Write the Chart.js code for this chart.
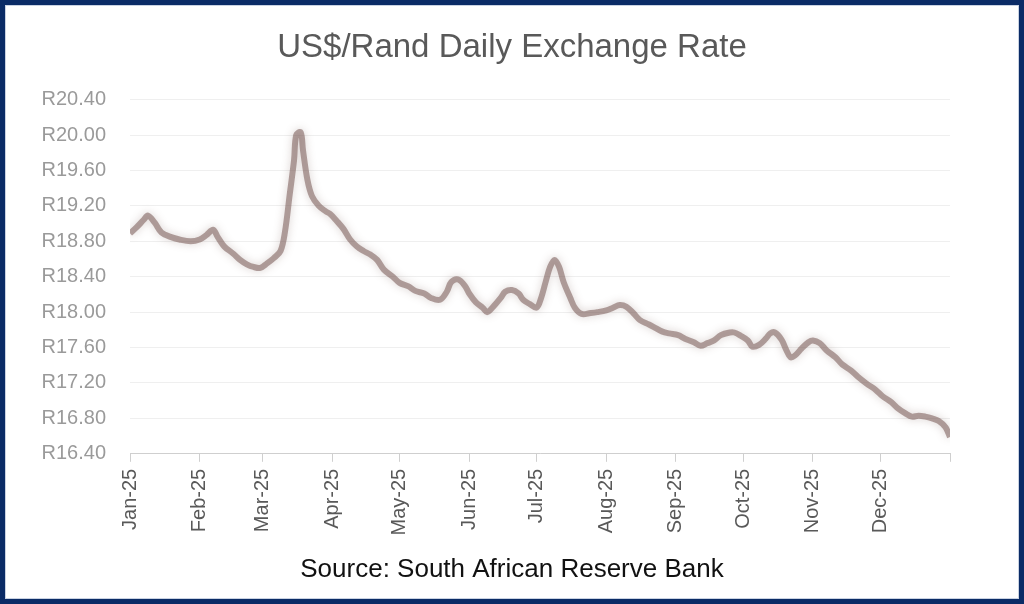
<!DOCTYPE html>
<html>
<head>
<meta charset="utf-8">
<script src="https://cdn.jsdelivr.net/npm/chart.js@4.4.1/dist/chart.umd.min.js"></script>
<style>
  html, body { margin: 0; padding: 0; background: #fff; }
  #wrap {
    width: 1024px; height: 604px; box-sizing: border-box;
    border: 5px solid #0a2b66;
    box-shadow: inset 0 0 0 1px #c9d2e2;
    position: relative;
  }
  #chart { display: block; }
</style>
</head>
<body>
<div id="wrap"><canvas id="chart"></canvas></div>
<script>
// days since 1 Jan 2025
const days = [0, 3, 6, 8, 11, 14, 18, 22, 27, 31, 34, 37, 39, 42, 46, 49, 52, 55, 58, 61,
  64, 67, 69, 71, 73, 74, 76, 77, 79, 81, 84, 87, 89, 92, 95, 98, 101, 104, 107, 110,
  113, 117, 120, 124, 127, 131, 134, 138, 141, 143, 146, 149, 151, 154, 157, 159, 162, 165, 167, 170,
  173, 175, 178, 181, 183, 185, 187, 189, 191, 193, 196, 198, 201, 205, 208, 212, 215, 218, 221, 224,
  227, 231, 234, 237, 240, 244, 247, 251, 254, 257, 260, 263, 267, 269, 272, 275, 277, 280, 283, 285,
  287, 290, 292, 294, 296, 299, 302, 304, 307, 310, 314, 317, 321, 324, 328, 332, 335, 339, 342, 345,
  348, 351, 354, 357, 360, 363, 365];

// rand per US$
const rates = [18.89, 18.96, 19.04, 19.09, 19.01, 18.90, 18.85, 18.82, 18.80, 18.82, 18.87, 18.93, 18.85, 18.74, 18.66, 18.59, 18.54, 18.51, 18.50, 18.55,
  18.61, 18.69, 18.91, 19.31, 19.71, 20.00, 20.03, 19.83, 19.49, 19.31, 19.20, 19.14, 19.11, 19.03, 18.94, 18.82, 18.74, 18.69, 18.65, 18.59,
  18.48, 18.40, 18.33, 18.29, 18.24, 18.21, 18.16, 18.14, 18.23, 18.34, 18.37, 18.30, 18.21, 18.11, 18.05, 18.00, 18.07, 18.16, 18.23, 18.25,
  18.21, 18.14, 18.09, 18.05, 18.16, 18.34, 18.51, 18.59, 18.51, 18.34, 18.16, 18.05, 17.98, 17.99, 18.00, 18.02, 18.05, 18.08, 18.06, 17.99,
  17.91, 17.86, 17.82, 17.78, 17.76, 17.74, 17.70, 17.66, 17.62, 17.65, 17.68, 17.74, 17.77, 17.77, 17.73, 17.68, 17.61, 17.63, 17.70, 17.76,
  17.77, 17.69, 17.58, 17.49, 17.51, 17.59, 17.66, 17.68, 17.65, 17.57, 17.49, 17.41, 17.34, 17.27, 17.19, 17.12, 17.05, 16.98, 16.91, 16.86,
  16.82, 16.83, 16.82, 16.80, 16.77, 16.70, 16.59];

const monthStarts = [0, 31, 59, 90, 120, 151, 181, 212, 243, 273, 304, 334];
const monthLabels = ['Jan-25', 'Feb-25', 'Mar-25', 'Apr-25', 'May-25', 'Jun-25',
  'Jul-25', 'Aug-25', 'Sep-25', 'Oct-25', 'Nov-25', 'Dec-25'];

const yMin = 16.4, yMax = 20.4, yStep = 0.4;

const points = days.map((d, i) => ({ x: d, y: rates[i] }));

// soft edge on the line, the source picture is fuzzy
const softLine = {
  id: 'softLine',
  beforeDatasetsDraw(chart) {
    const ctx = chart.ctx;
    ctx.save();
    ctx.shadowColor = 'rgba(120,90,85,0.5)';
    ctx.shadowBlur = 8;
  },
  afterDatasetsDraw(chart) {
    chart.ctx.restore();
  }
};

new Chart(document.getElementById('chart'), {
  type: 'line',
  data: {
    datasets: [{
      data: points,
      borderColor: 'rgba(120,90,85,0.55)',
      borderWidth: 6,
      pointRadius: 0,
      tension: 0.35,
      fill: false
    }]
  },
  options: {
    responsive: true,
    maintainAspectRatio: false,
    animation: false,
    layout: { padding: 0 },
    plugins: {
      legend: { display: false },
      tooltip: { enabled: false },
      title: {
        display: true,
        text: 'US$/Rand Daily Exchange Rate',
        color: '#595959',
        font: { family: "'Liberation Sans', Arial, sans-serif", size: 33, weight: 'normal' },
        padding: { top: 23, bottom: 32 }
      },
      subtitle: {
        display: true,
        position: 'bottom',
        text: 'Source: South African Reserve Bank',
        color: '#111',
        font: { family: "'Liberation Sans', Arial, sans-serif", size: 26, weight: 'normal' },
        padding: { top: 0, bottom: 14 }
      }
    },
    scales: {
      x: {
        type: 'linear',
        min: 0,
        max: 365,
        afterBuildTicks: (scale) => {
          scale.ticks = monthStarts.concat([365]).map(v => ({ value: v }));
        },
        afterFit: (scale) => { scale.height = 100; },
        grid: { drawOnChartArea: false, drawTicks: true, tickLength: 8, color: '#cfcfcf' },
        border: { display: true, color: '#cfcfcf', width: 1 },
        ticks: {
          autoSkip: false,
          minRotation: 90,
          maxRotation: 90,
          padding: 7,
          color: '#595959',
          font: { family: "'Liberation Sans', Arial, sans-serif", size: 20 },
          callback: (value) => {
            const i = monthStarts.indexOf(value);
            return i >= 0 ? monthLabels[i] : '';
          }
        }
      },
      y: {
        min: yMin,
        max: yMax,
        afterFit: (scale) => { scale.width = 125; },
        grid: { color: '#efefef', drawTicks: false },
        border: { display: false },
        ticks: {
          stepSize: yStep,
          padding: 24,
          color: '#9a9a9a',
          font: { family: "'Liberation Sans', Arial, sans-serif", size: 20 },
          callback: (v) => 'R' + Number(v).toFixed(2)
        }
      },
      // empty right axis, only keeps the white margin right of the plot
      spacer: {
        position: 'right',
        display: true,
        afterFit: (scale) => { scale.width = 69; },
        grid: { display: false },
        border: { display: false },
        ticks: { display: false }
      }
    }
  },
  plugins: [softLine]
});
</script>
</body>
</html>
